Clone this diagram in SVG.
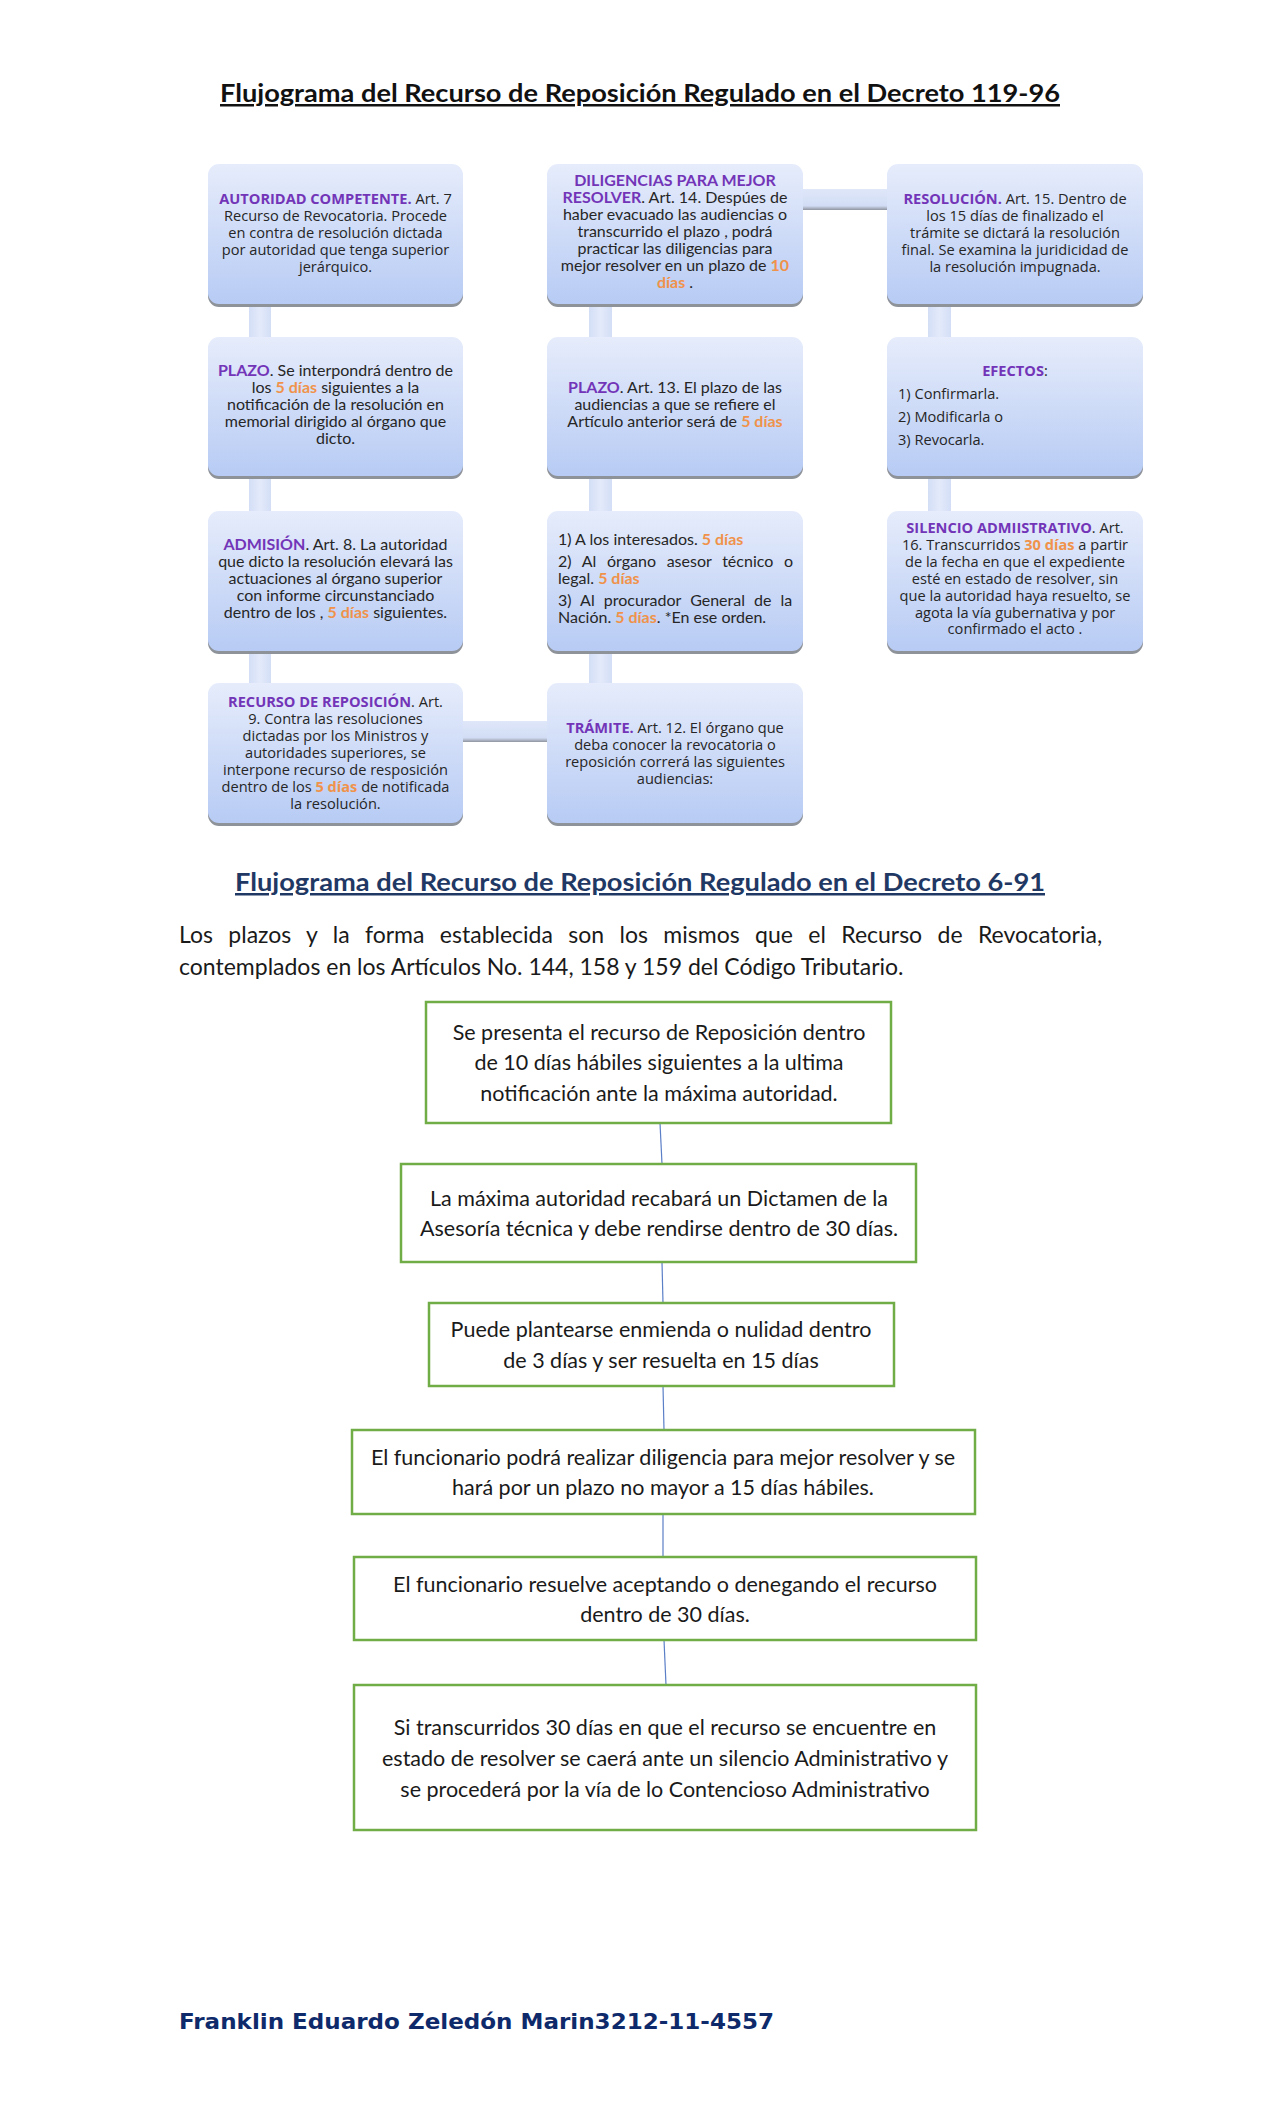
<svg xmlns="http://www.w3.org/2000/svg" width="1280" height="2108" viewBox="0 0 1280 2108">
<defs>
<linearGradient id="bx" x1="0" y1="0" x2="0" y2="1">
<stop offset="0" stop-color="#e6ecfb"/>
<stop offset="1" stop-color="#b7cbf4"/>
</linearGradient>
<linearGradient id="bar" x1="0" y1="0" x2="1" y2="0">
<stop offset="0" stop-color="#d3def6"/>
<stop offset="0.5" stop-color="#e3eafa"/>
<stop offset="1" stop-color="#d3def6"/>
</linearGradient>
<linearGradient id="hbar" x1="0" y1="0" x2="0" y2="1">
<stop offset="0" stop-color="#dfe7f9"/>
<stop offset="0.8" stop-color="#d2ddf5"/>
<stop offset="1" stop-color="#8f959f"/>
</linearGradient>
</defs>
<style>
.sh{fill:#8e9299}
.bx{fill:url(#bx)}
.os{font-family:"Open Sans","Noto Sans","DejaVu Sans",sans-serif;font-size:14.6px;fill:#262626}
.la{font-family:Lato,"Liberation Sans",sans-serif;font-size:16px;fill:#262626}
.p{fill:#7335b8;font-weight:bold}
.o{fill:#f0924a;font-weight:bold}
.gb{fill:#ffffff;stroke:#70ad47;stroke-width:2.5}
.gt{font-family:Lato,"Liberation Sans",sans-serif;font-size:21.5px;fill:#1a1a1a}
.cn{stroke:#5b7fc7;stroke-width:1.2;fill:none}
</style>
<rect width="1280" height="2108" fill="#ffffff"/>

<text x="640" y="102" text-anchor="middle" font-family="Lato,'Liberation Sans',sans-serif" font-weight="bold" font-size="25" fill="#111" text-decoration="underline" textLength="840" lengthAdjust="spacingAndGlyphs">Flujograma del Recurso de Reposición Regulado en el Decreto 119-96</text>

<g id="connectors">
<rect x="249" y="290" width="22" height="410" fill="url(#bar)"/>
<rect x="589" y="290" width="23" height="410" fill="url(#bar)"/>
<rect x="928" y="290" width="23" height="230" fill="url(#bar)"/>
<rect x="800" y="189" width="90" height="21" fill="url(#hbar)"/>
<rect x="460" y="721" width="90" height="21" fill="url(#hbar)"/>
<path class="cn" d="M660,1123 L662,1164"/>
<path class="cn" d="M662,1262 L663,1303"/>
<path class="cn" d="M663,1386 L664,1430"/>
<path class="cn" d="M663,1514 L663,1557"/>
<path class="cn" d="M664,1640 L666,1685"/>
</g>

<g id="n-autoridad">
<rect class="sh" x="208" y="167" width="255" height="140" rx="11"/>
<rect class="bx" x="208" y="164" width="255" height="140" rx="11"/>
<text class="os" text-anchor="middle"><tspan x="335.5" y="204"><tspan class="p">AUTORIDAD COMPETENTE.</tspan> Art. 7</tspan><tspan x="335.5" y="221">Recurso de Revocatoria. Procede</tspan><tspan x="335.5" y="238">en contra de resolución dictada</tspan><tspan x="335.5" y="255">por autoridad que tenga superior</tspan><tspan x="335.5" y="272">jerárquico.</tspan></text>
</g>

<g id="n-plazo1">
<rect class="sh" x="208" y="340" width="255" height="139" rx="11"/>
<rect class="bx" x="208" y="337" width="255" height="139" rx="11"/>
<text class="la" text-anchor="middle"><tspan x="335.5" y="376"><tspan class="p">PLAZO</tspan>. Se interpondrá dentro de</tspan><tspan x="335.5" y="393">los <tspan class="o">5 días</tspan> siguientes a la</tspan><tspan x="335.5" y="410">notificación de la resolución en</tspan><tspan x="335.5" y="427">memorial dirigido al órgano que</tspan><tspan x="335.5" y="444">dicto.</tspan></text>
</g>

<g id="n-admision">
<rect class="sh" x="208" y="514" width="255" height="140" rx="11"/>
<rect class="bx" x="208" y="511" width="255" height="140" rx="11"/>
<text class="la" text-anchor="middle"><tspan x="335.5" y="550"><tspan class="p">ADMISIÓN</tspan>. Art. 8. La autoridad</tspan><tspan x="335.5" y="567">que dicto la resolución elevará las</tspan><tspan x="335.5" y="584">actuaciones al órgano superior</tspan><tspan x="335.5" y="601">con informe circunstanciado</tspan><tspan x="335.5" y="618">dentro de los , <tspan class="o">5 días</tspan>  siguientes.</tspan></text>
</g>

<g id="n-recurso">
<rect class="sh" x="208" y="686" width="255" height="140" rx="11"/>
<rect class="bx" x="208" y="683" width="255" height="140" rx="11"/>
<text class="os" text-anchor="middle"><tspan x="335.5" y="707"><tspan class="p">RECURSO DE REPOSICIÓN</tspan>.  Art.</tspan><tspan x="335.5" y="724">9. Contra las resoluciones</tspan><tspan x="335.5" y="741">dictadas por los Ministros y</tspan><tspan x="335.5" y="758">autoridades superiores, se</tspan><tspan x="335.5" y="775">interpone recurso de resposición</tspan><tspan x="335.5" y="792">dentro de los  <tspan class="o">5 días</tspan> de notificada</tspan><tspan x="335.5" y="809">la resolución.</tspan></text>
</g>

<g id="n-diligencias">
<rect class="sh" x="547" y="167" width="256" height="140" rx="11"/>
<rect class="bx" x="547" y="164" width="256" height="140" rx="11"/>
<text class="la" text-anchor="middle"><tspan x="675" y="186" class="p">DILIGENCIAS PARA MEJOR</tspan><tspan x="675" y="203"><tspan class="p">RESOLVER</tspan>.  Art. 14. Despúes de</tspan><tspan x="675" y="220">haber evacuado las audiencias  o</tspan><tspan x="675" y="237">transcurrido el plazo , podrá</tspan><tspan x="675" y="254">practicar las diligencias para</tspan><tspan x="675" y="271">mejor  resolver en un plazo de <tspan class="o">10</tspan></tspan><tspan x="675" y="288"><tspan class="o">días</tspan> .</tspan></text>
</g>

<g id="n-plazo2">
<rect class="sh" x="547" y="340" width="256" height="139" rx="11"/>
<rect class="bx" x="547" y="337" width="256" height="139" rx="11"/>
<text class="la" text-anchor="middle"><tspan x="675" y="393"><tspan class="p">PLAZO</tspan>. Art. 13. El plazo de las</tspan><tspan x="675" y="410">audiencias a que se refiere el</tspan><tspan x="675" y="427">Artículo anterior será de <tspan class="o">5 días</tspan></tspan></text>
</g>

<g id="n-audiencias">
<rect class="sh" x="547" y="514" width="256" height="140" rx="11"/>
<rect class="bx" x="547" y="511" width="256" height="140" rx="11"/>
<text class="la"><tspan x="558" y="545">1) A los interesados. <tspan class="o">5 días</tspan></tspan></text>
<text class="la" word-spacing="6.6"><tspan x="558" y="567">2) Al órgano asesor técnico o</tspan></text>
<text class="la"><tspan x="558" y="584">legal. <tspan class="o">5 días</tspan></tspan></text>
<text class="la" word-spacing="5"><tspan x="558" y="606">3) Al procurador General de la</tspan></text>
<text class="la"><tspan x="558" y="623">Nación. <tspan class="o">5 días</tspan>. *En ese orden.</tspan></text>
</g>

<g id="n-tramite">
<rect class="sh" x="547" y="686" width="256" height="140" rx="11"/>
<rect class="bx" x="547" y="683" width="256" height="140" rx="11"/>
<text class="os" text-anchor="middle"><tspan x="675" y="733"><tspan class="p">TRÁMITE.</tspan> Art. 12. El órgano que</tspan><tspan x="675" y="750">deba conocer la revocatoria o</tspan><tspan x="675" y="767">reposición correrá las siguientes</tspan><tspan x="675" y="784">audiencias:</tspan></text>
</g>

<g id="n-resolucion">
<rect class="sh" x="887" y="167" width="256" height="140" rx="11"/>
<rect class="bx" x="887" y="164" width="256" height="140" rx="11"/>
<text class="os" text-anchor="middle"><tspan x="1015" y="204"><tspan class="p">RESOLUCIÓN.</tspan> Art. 15. Dentro de</tspan><tspan x="1015" y="221">los 15 días de finalizado el</tspan><tspan x="1015" y="238">trámite se dictará la resolución</tspan><tspan x="1015" y="255">final. Se examina la juridicidad de</tspan><tspan x="1015" y="272">la resolución impugnada.</tspan></text>
</g>

<g id="n-efectos">
<rect class="sh" x="887" y="340" width="256" height="139" rx="11"/>
<rect class="bx" x="887" y="337" width="256" height="139" rx="11"/>
<text class="os" text-anchor="middle" x="1015" y="376"><tspan class="p">EFECTOS</tspan>:</text>
<text class="os"><tspan x="898" y="399">1) Confirmarla.</tspan><tspan x="898" y="422">2) Modificarla o</tspan><tspan x="898" y="445">3) Revocarla.</tspan></text>
</g>

<g id="n-silencio">
<rect class="sh" x="887" y="514" width="256" height="140" rx="11"/>
<rect class="bx" x="887" y="511" width="256" height="140" rx="11"/>
<text class="os" text-anchor="middle"><tspan x="1015" y="533"><tspan class="p">SILENCIO ADMIISTRATIVO</tspan>. Art.</tspan><tspan x="1015" y="550">16. Transcurridos <tspan class="o">30 días</tspan> a partir</tspan><tspan x="1015" y="567">de la fecha en que el expediente</tspan><tspan x="1015" y="584">esté en estado de resolver, sin</tspan><tspan x="1015" y="601">que la autoridad haya resuelto, se</tspan><tspan x="1015" y="618">agota la vía gubernativa y por</tspan><tspan x="1015" y="634">confirmado el acto .</tspan></text>
</g>

<text x="640" y="891" text-anchor="middle" font-family="Lato,'Liberation Sans',sans-serif" font-weight="bold" font-size="25" fill="#1f3864" text-decoration="underline" textLength="810" lengthAdjust="spacingAndGlyphs">Flujograma del Recurso de Reposición Regulado en el Decreto 6-91</text>

<text font-family="Lato,'Liberation Sans',sans-serif" font-size="23" fill="#1a1a1a"><tspan x="179" y="943" word-spacing="9.5">Los plazos y la forma establecida son los mismos que el Recurso de Revocatoria,</tspan><tspan x="179" y="975">contemplados en los Artículos No. 144, 158 y 159 del Código Tributario.</tspan></text>

<g id="g1">
<rect class="gb" x="426" y="1002" width="465" height="121"/>
<text class="gt" text-anchor="middle"><tspan x="659" y="1040">Se presenta el recurso de Reposición dentro</tspan><tspan x="659" y="1070">de 10 días hábiles siguientes a la ultima</tspan><tspan x="659" y="1101">notificación ante la máxima autoridad.</tspan></text>
</g>
<g id="g2">
<rect class="gb" x="401" y="1164" width="515" height="98"/>
<text class="gt" text-anchor="middle"><tspan x="659" y="1206">La máxima autoridad recabará un Dictamen de la</tspan><tspan x="659" y="1236">Asesoría técnica y debe rendirse dentro de 30 días.</tspan></text>
</g>
<g id="g3">
<rect class="gb" x="429" y="1303" width="465" height="83"/>
<text class="gt" text-anchor="middle"><tspan x="661" y="1337">Puede plantearse enmienda o nulidad dentro</tspan><tspan x="661" y="1368">de 3 días y ser resuelta en 15 días</tspan></text>
</g>
<g id="g4">
<rect class="gb" x="352" y="1430" width="623" height="84"/>
<text class="gt" text-anchor="middle"><tspan x="663" y="1465">El funcionario podrá realizar diligencia para mejor resolver y se</tspan><tspan x="663" y="1495">hará por un plazo no mayor a 15 días hábiles.</tspan></text>
</g>
<g id="g5">
<rect class="gb" x="354" y="1557" width="622" height="83"/>
<text class="gt" text-anchor="middle"><tspan x="665" y="1592">El funcionario resuelve aceptando o denegando el recurso</tspan><tspan x="665" y="1622">dentro de 30 días.</tspan></text>
</g>
<g id="g6">
<rect class="gb" x="354" y="1685" width="622" height="145"/>
<text class="gt" text-anchor="middle"><tspan x="665" y="1735">Si transcurridos 30 días en que el recurso se encuentre en</tspan><tspan x="665" y="1766">estado de resolver se caerá ante un silencio Administrativo y</tspan><tspan x="665" y="1797">se procederá por la vía de lo Contencioso Administrativo</tspan></text>
</g>

<text x="179" y="2029" font-family="'DejaVu Sans',Verdana,sans-serif" font-weight="bold" font-size="21" fill="#0e2a6b" textLength="595" lengthAdjust="spacingAndGlyphs">Franklin Eduardo Zeledón Marin3212-11-4557</text>
</svg>
